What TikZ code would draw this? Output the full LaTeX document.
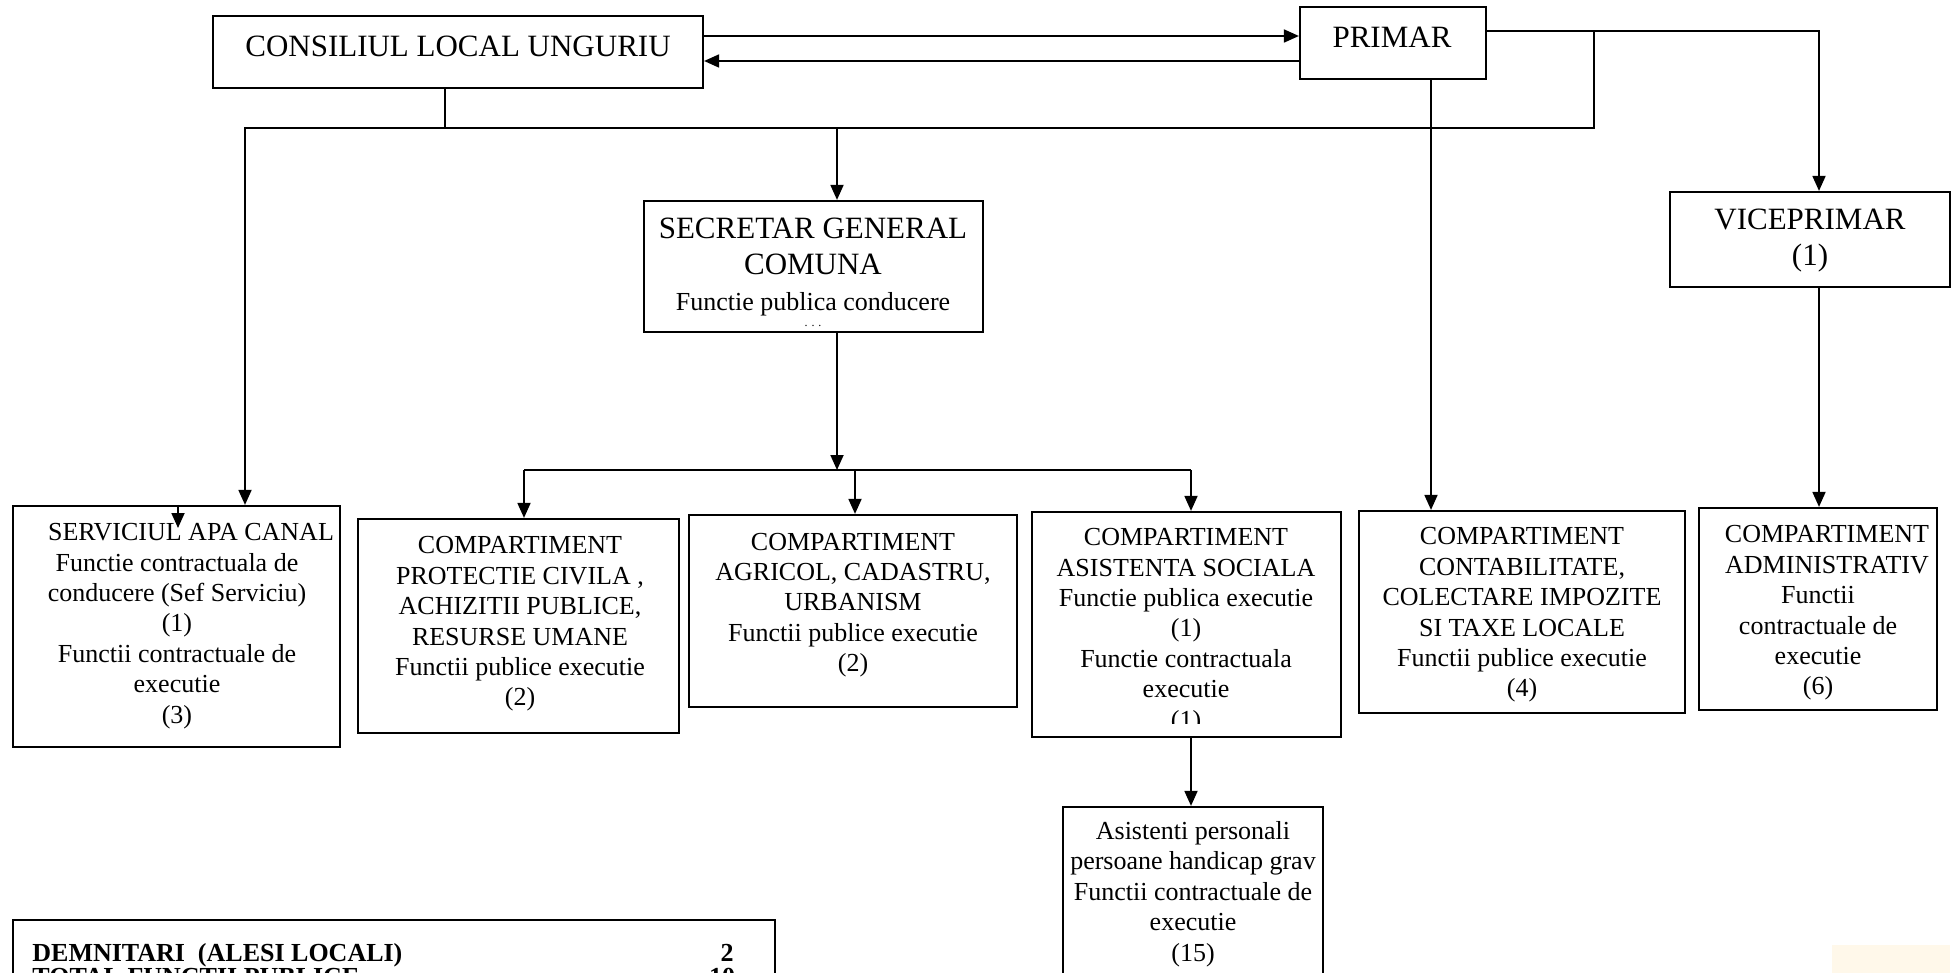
\documentclass[tikz,border=0pt]{standalone}
\usepackage{fontspec}
\setmainfont{Liberation Serif}
\usetikzlibrary{arrows.meta,fit}
\definecolor{cream}{HTML}{FFF8EA}
\begin{document}
\begin{tikzpicture}[x=0.5pt,y=-0.5pt,
  box/.style={draw,line width=1.1pt,inner sep=0pt,rectangle},
  txt/.style={inner sep=0pt,align=center,font=\fontsize{13}{15.2}\selectfont},
  bigtxt/.style={inner sep=0pt,align=center,font=\fontsize{15.5}{18}\selectfont},
  legtxt/.style={inner sep=0pt,font=\fontsize{13}{16}\selectfont\bfseries},
  ln/.style={line width=0.9pt},
  arr/.style={line width=0.9pt,-{Triangle[length=7.5pt,width=6.5pt]}}]
\useasboundingbox (0,0) rectangle (1955,973);
\clip (0,0) rectangle (1955,973);
\fill[cream] (1832,945) rectangle (1950,973);
% boxes
\node[box,fit={(213,16)(703,88)}] (cons) {};
\node[box,fit={(1300,7)(1486,79)}] (prim) {};
\node[box,fit={(644,201)(983,332)}] (secr) {};
\node[box,fit={(1670,192)(1950,287)}] (vice) {};
\node[box,fit={(13,506)(340,747)}] (serv) {};
\node[box,fit={(358,519)(679,733)}] (prot) {};
\node[box,fit={(689,515)(1017,707)}] (agri) {};
\node[box,fit={(1032,512)(1341,737)}] (asis) {};
\node[box,fit={(1359,511)(1685,713)}] (cont) {};
\node[box,fit={(1699,508)(1937,710)}] (admi) {};
\node[box,fit={(1063,807)(1323,1000)}] (pers) {};
\node[box,fit={(13,920)(775,1000)}] (legd) {};
% texts
\node[bigtxt] (cons-t) at (458,46) {CONSILIUL LOCAL UNGURIU};
\node[bigtxt] (prim-t) at (1392,37) {PRIMAR};
\node[bigtxt] (secr-t) at (813,272) {SECRETAR GENERAL\\COMUNA\\{\fontsize{13}{15}\selectfont Functie publica conducere}\\[-10pt]{\fontsize{6}{6}\selectfont . . .}};
\node[bigtxt] (vice-t) at (1810,241) {VICEPRIMAR\\(1)};
\node[txt] (serv-t) at (177,626) {\hspace*{14pt}SERVICIUL APA CANAL\\Functie contractuala de\\conducere (Sef Serviciu)\\(1)\\Functii contractuale de\\executie\\(3)};
\node[txt] (prot-t) at (520,624) {COMPARTIMENT\\PROTECTIE CIVILA ,\\ACHIZITII PUBLICE,\\RESURSE UMANE\\Functii publice executie\\(2)};
\node[txt] (agri-t) at (853,605) {COMPARTIMENT\\AGRICOL, CADASTRU,\\URBANISM\\Functii publice executie\\(2)};
\begin{scope}
\clip (1032,512) rectangle (1341,723);
\node[txt] (asis-t) at (1186,631) {COMPARTIMENT\\ASISTENTA SOCIALA\\Functie publica executie\\(1)\\Functie contractuala\\executie\\(1)};
\end{scope}
\node[txt] (cont-t) at (1522,615) {COMPARTIMENT\\CONTABILITATE,\\COLECTARE IMPOZITE\\SI TAXE LOCALE\\Functii publice executie\\(4)};
\node[txt] (admi-t) at (1818,613) {\hspace*{9pt}COMPARTIMENT\\\hspace*{9pt}ADMINISTRATIV\\Functii\\contractuale de\\executie\\(6)};
\node[txt] (pers-t) at (1193,894) {Asistenti personali\\persoane handicap grav\\Functii contractuale de\\executie\\(15)};
\node[legtxt,anchor=base west] (leg1) at (32,961) {DEMNITARI\ \ (ALESI LOCALI)};
\node[legtxt,anchor=base] (leg1n) at (727,961) {2};
\node[legtxt,anchor=base west] (leg2) at (32,985) {TOTAL FUNCTII PUBLICE};
\node[legtxt,anchor=base] (leg2n) at (722,985) {10};
% junction coordinates
\coordinate (yA) at (0,36);
\coordinate (yB) at (0,61);
\coordinate (jR) at (1594,31);
\coordinate (jV) at (1819,31);
\coordinate (busL) at (245,128);
\coordinate (busC) at (445,128);
\coordinate (busS) at (837,128);
\coordinate (b2S) at (837,470);
\coordinate (b2L) at (524,470);
\coordinate (b2A) at (855,470);
\coordinate (b2R) at (1191,470);
\coordinate (xP) at (1431,0);
\coordinate (stray) at (178,528);
% connectors
\draw[arr] (cons.east |- yA) -- (prim.west |- yA);
\draw[arr] (prim.west |- yB) -- (cons.east |- yB);
\draw[arr] (prim.east |- jV) -- (jV) -- (jV |- vice.north);
\draw[arr] (jR) -- (jR |- busL) -- (busL) -- (busL |- serv.north);
\draw[ln] (busC |- cons.south) -- (busC);
\draw[arr] (busS) -- (busS |- secr.north);
\draw[arr] (b2S |- secr.south) -- (b2S);
\draw[ln] (b2L) -- (b2R);
\draw[arr] (b2L) -- (b2L |- prot.north);
\draw[arr] (b2A) -- (b2A |- agri.north);
\draw[arr] (b2R) -- (b2R |- asis.north);
\draw[arr] (xP |- prim.south) -- (xP |- cont.north);
\draw[arr] (jV |- vice.south) -- (jV |- admi.north);
\draw[arr] (b2R |- asis.south) -- (b2R |- pers.north);
\draw[arr] (stray |- serv.north) -- (stray);
\end{tikzpicture}
\end{document}
